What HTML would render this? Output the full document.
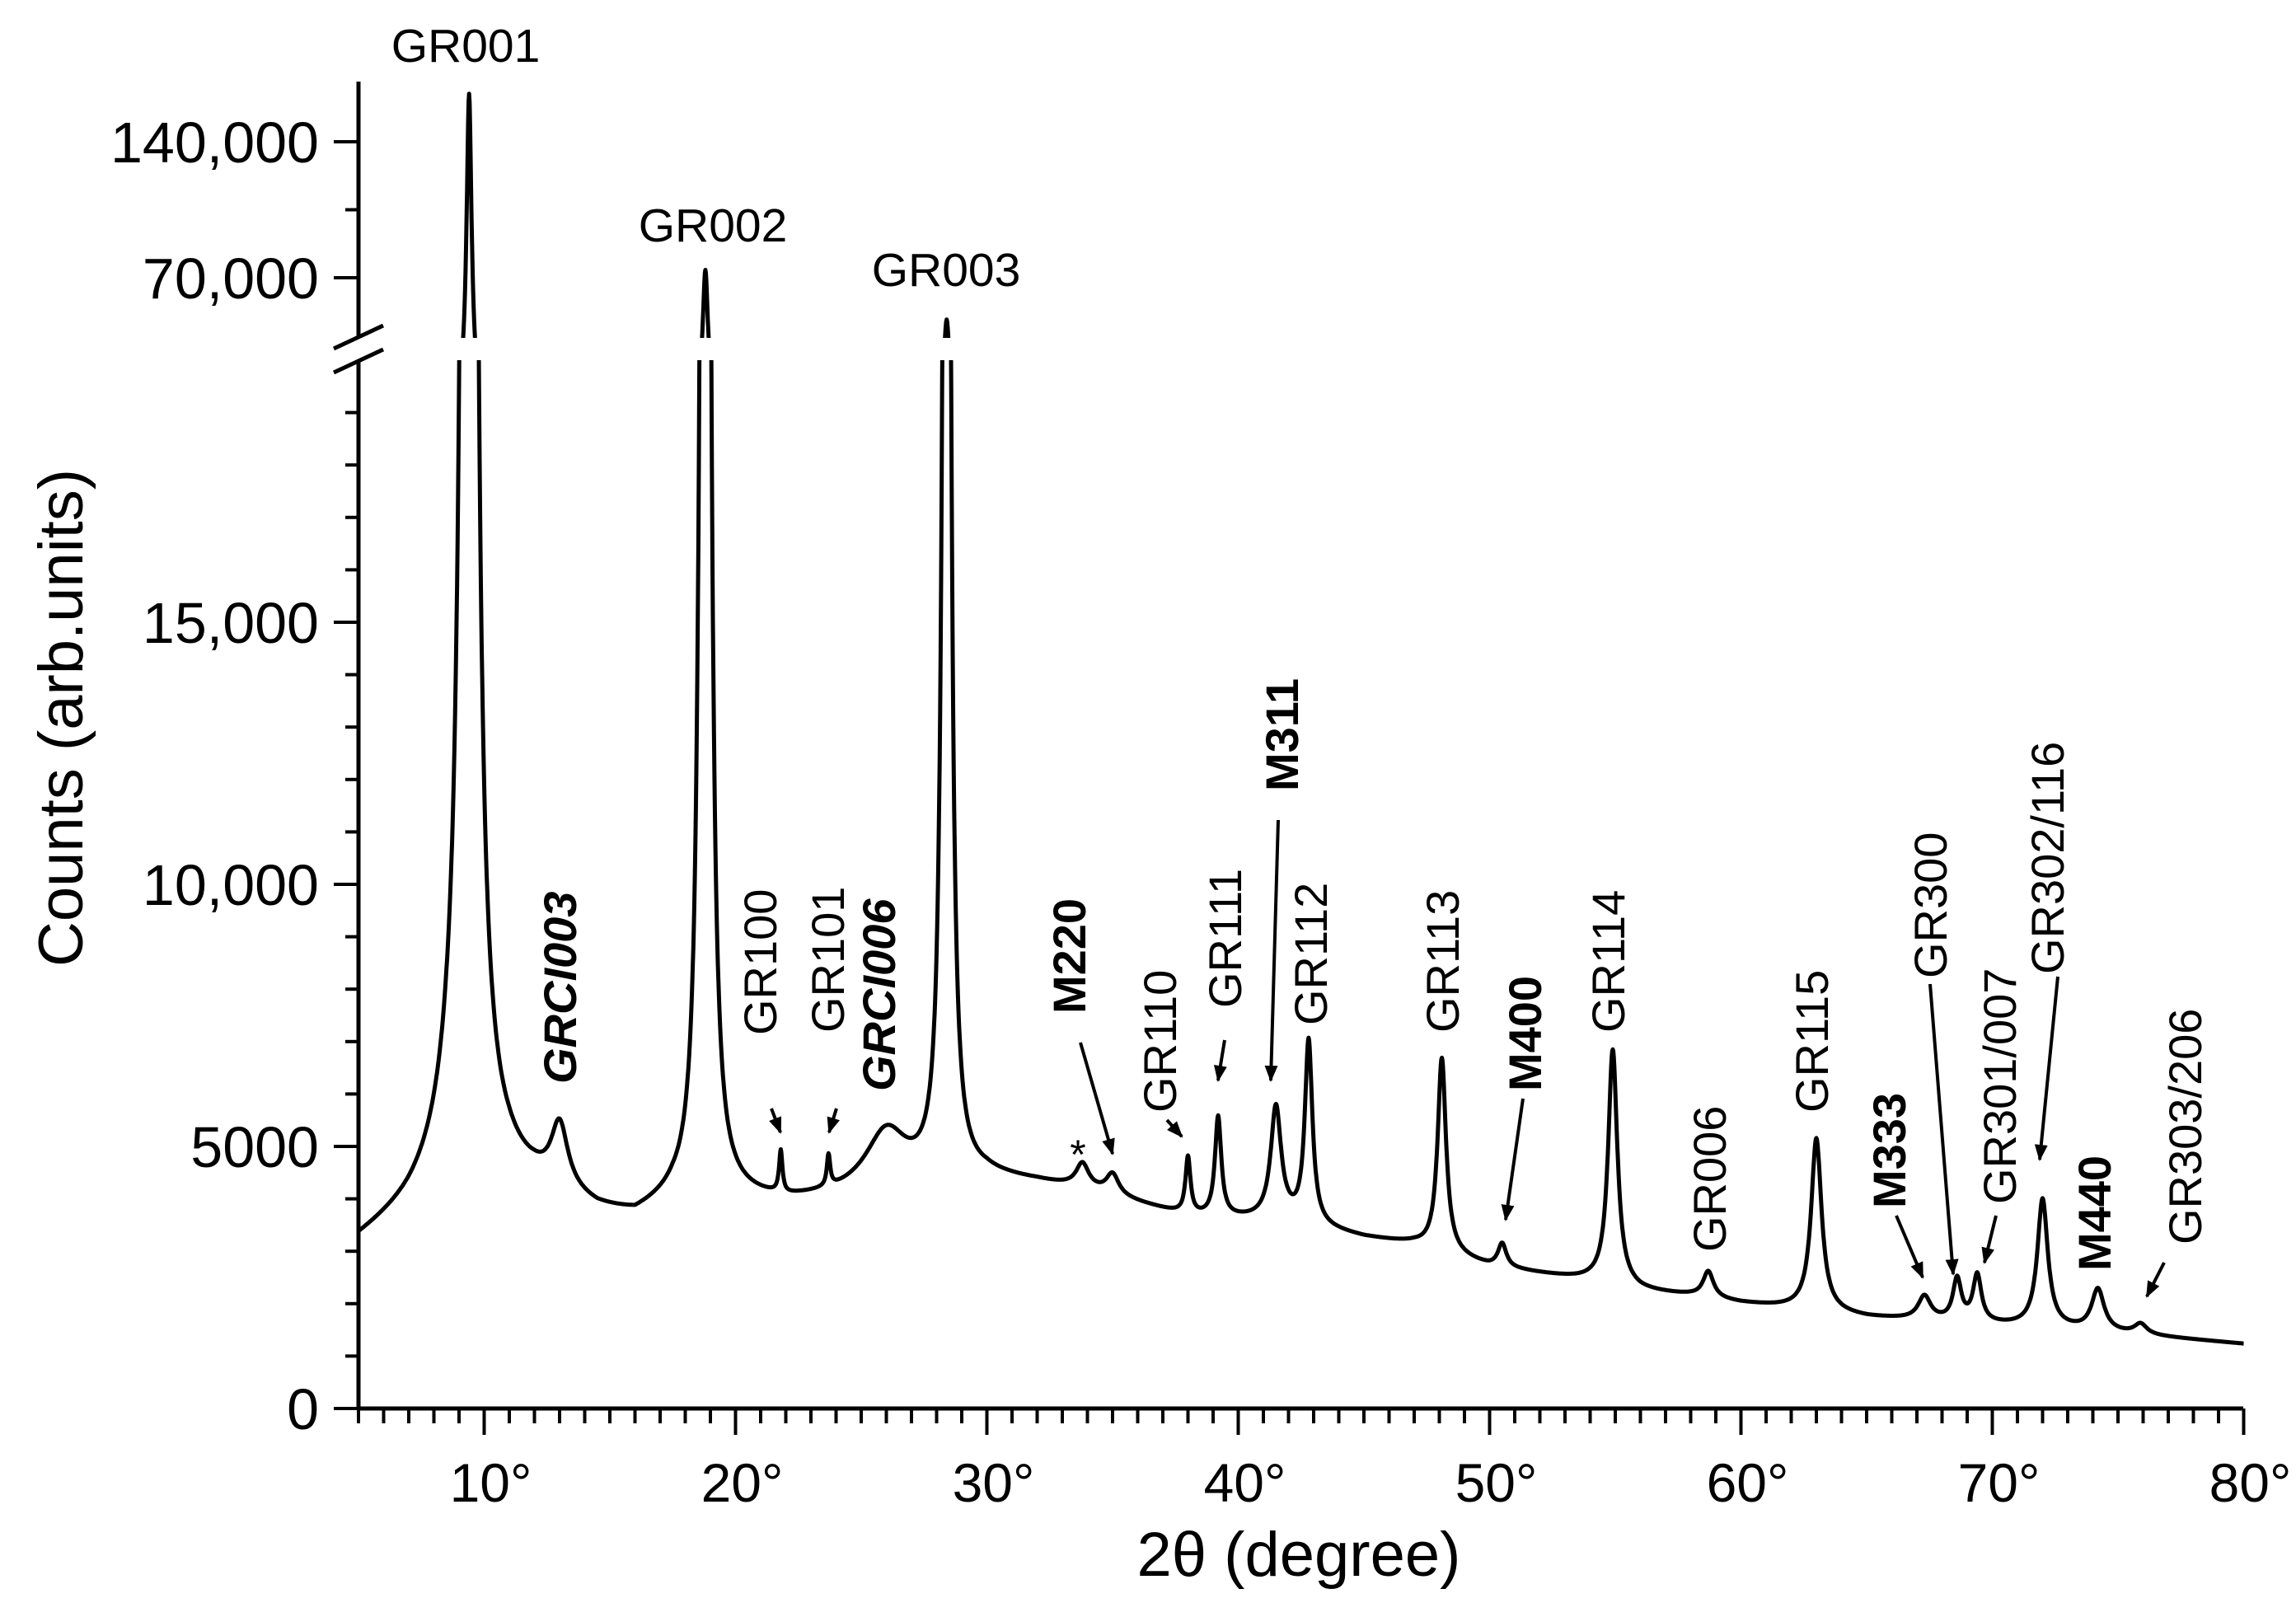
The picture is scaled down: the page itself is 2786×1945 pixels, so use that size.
<!DOCTYPE html>
<html><head><meta charset="utf-8">
<style>
html,body{margin:0;padding:0;background:#fff;}
svg{display:block;}
text{font-family:"Liberation Sans",Arial,sans-serif;fill:#000;}
</style></head>
<body>
<svg id="chart" width="2786" height="1945" viewBox="0 0 2786 1945" xmlns="http://www.w3.org/2000/svg">
<defs>
<clipPath id="clipLow"><rect x="435" y="437" width="2300" height="1280"/></clipPath>
<clipPath id="clipUp"><rect x="435" y="99" width="2300" height="311"/></clipPath>
<marker id="arr" viewBox="0 0 10 10" refX="9" refY="5" markerWidth="5" markerHeight="5" orient="auto"><path d="M0,1 L10,5 L0,9 Z" fill="#000"/></marker>
</defs>
<g id="axes"></g>
<g id="series"></g>
<g id="labels"></g>
</svg>
<script>
// ---- data ----
const bgAngles = [5,7,8.5,11,12,14.5,16,17.5,20,22,24,30,32,34,36,38,40,42,45,47,50,52,54,56,58,60,62,65,68,70,73,76,80];
const bgCounts = [3150,3700,4200,4250,4150,3700,3600,3900,3950,3900,4000,4400,4300,4150,3900,3650,3600,3550,3250,3120,2700,2560,2420,2230,2140,2000,1900,1730,1650,1590,1500,1390,1230];
const peakNames = ["GR001","GR001-shoulder","GRCI003","GR002","GR100","GR101","GRCI006","GR003","star","M220","GR110","GR111","M311","GR112","GR113","M400","GR114","GR006","GR115","M333","GR300","GR301/007","GR302/116","M440","GR303/206"];
const peakCenters = [9.4,9.3,13.0,18.8,21.8,23.7,26.0,28.4,33.8,35.0,38.0,39.2,41.5,42.8,48.1,50.5,54.9,58.7,63.0,67.3,68.6,69.4,72.0,74.2,75.9];
const peakHeights = [158000,2500,1200,70000,800,600,1100,44000,450,400,1100,1900,2150,3500,3700,450,4500,500,3300,450,800,900,2450,800,200];
const peakWidths = [0.12,0.9,0.4,0.13,0.08,0.08,1.0,0.13,0.3,0.3,0.12,0.15,0.25,0.18,0.2,0.2,0.22,0.25,0.25,0.3,0.2,0.2,0.25,0.3,0.3];
const xTicks = [10,20,30,40,50,60,70,80];
const yLowTicks = [0,5000,10000,15000];
const yLowTickLabels = ["0","5000","10,000","15,000"];
const yUpTicks = [70000,140000];
const yUpTickLabels = ["70,000","140,000"];

// ---- scales ----
const X0=435, PX=30.5;
function sx(a){return X0+(a-5)*PX;}
function syLow(v){return 1709-v*318/5000;}
function syUp(v){return 337-(v-70000)*165/70000;}
const NS="http://www.w3.org/2000/svg";
function mk(tag,attrs,parent){const e=document.createElementNS(NS,tag);for(const k in attrs)e.setAttribute(k,attrs[k]);parent.appendChild(e);return e;}

function bg(a){
  for(let i=0;i<bgAngles.length-1;i++){
    if(a>=bgAngles[i]&&a<=bgAngles[i+1]){const t=(a-bgAngles[i])/(bgAngles[i+1]-bgAngles[i]);return bgCounts[i]+t*(bgCounts[i+1]-bgCounts[i]);}
  }
  return bgCounts[bgCounts.length-1];
}
function counts(a){
  let v=bg(a);
  for(let i=0;i<peakCenters.length;i++){const d=(a-peakCenters[i])/peakWidths[i];v+=peakHeights[i]/(1+d*d);}
  return v;
}

const axes=document.getElementById('axes');
const series=document.getElementById('series');
const labels=document.getElementById('labels');

let l;
l=mk('line',{x1:435,y1:1709,x2:2722,y2:1709,stroke:'#000','stroke-width':5},axes);


l=mk('line',{x1:435,y1:1711,x2:435,y2:437,stroke:'#000','stroke-width':5},axes);


l=mk('line',{x1:435,y1:410,x2:435,y2:99,stroke:'#000','stroke-width':5},axes);


l=mk('line',{x1:405,y1:423,x2:465,y2:395,stroke:'#000','stroke-width':5},axes);


l=mk('line',{x1:405,y1:452,x2:465,y2:424,stroke:'#000','stroke-width':5},axes);



for(let a=5;a<=80;a++){
  const major=(a%10===0);
  l=mk('line',{x1:sx(a),y1:1709,x2:sx(a),y2:1709+(major?32:18),stroke:'#000','stroke-width':4},axes);
  
  
}
xTicks.forEach(a=>{
  const t=mk('text',{x:sx(a)+8,y:1822,'font-size':66,'text-anchor':'middle'},axes);
  t.textContent=a+'°';
  
  
});
for(let v=0;v<=19000;v+=1000){
  const major=(v%5000===0);
  l=mk('line',{x1:435,y1:syLow(v),x2:435-(major?30:16),y2:syLow(v),stroke:'#000','stroke-width':4},axes);
  
  
}
yLowTicks.forEach((v,i)=>{
  const t=mk('text',{x:387,y:syLow(v)+25,'font-size':70,'text-anchor':'end'},axes);
  t.textContent=yLowTickLabels[i];
  
  
});
[70000,105000,140000].forEach(v=>{
  const major=(v%70000===0);
  l=mk('line',{x1:435,y1:syUp(v),x2:435-(major?30:16),y2:syUp(v),stroke:'#000','stroke-width':4},axes);
  
  
});
yUpTicks.forEach((v,i)=>{
  const t=mk('text',{x:387,y:syUp(v)+25,'font-size':70,'text-anchor':'end'},axes);
  t.textContent=yUpTickLabels[i];
  
  
});
let t=mk('text',{x:1576,y:1912,'font-size':76,'text-anchor':'middle'},axes);
t.textContent='2θ (degree)';


t=mk('text',{x:0,y:0,'font-size':76,'text-anchor':'middle',transform:'translate(100,871) rotate(-90)'},axes);
t.textContent='Counts (arb.units)';



let dl='',du='';
for(let a=5;a<=80.0001;a+=0.02){
  const v=counts(a);
  const x=sx(a).toFixed(1);
  dl+=(dl?'L':'M')+x+','+syLow(Math.min(v,21000)).toFixed(1);
  du+=(du?'L':'M')+x+','+syUp(Math.max(Math.min(v,180000),30000)).toFixed(1);
}
let p=mk('path',{d:dl,fill:'none',stroke:'#000','stroke-width':5,'stroke-linejoin':'round','clip-path':'url(#clipLow)'},series);


p=mk('path',{d:du,fill:'none',stroke:'#000','stroke-width':5,'stroke-linejoin':'round','clip-path':'url(#clipUp)'},series);



[["GR001",565,75],["GR002",865,293],["GR003",1148,347]].forEach(d=>{
  const e=mk('text',{x:d[1],y:d[2],'font-size':57,'text-anchor':'middle'},labels);
  e.textContent=d[0];
  
  
});
const st=mk('text',{x:1308,y:1418,'font-size':50,'text-anchor':'middle'},labels);
st.textContent='*';


const rot=[["GRCI003",679,1315,1,1],["GR100",922,1256,0,0],["GR101",1004,1253,0,0],["GRCI006",1066,1324,1,1],["M220",1297,1230,1,0],["GR110",1407,1350,0,0],["GR111",1486,1223,0,0],["M311",1555,960,1,0],["GR112",1590,1244,0,0],["GR113",1750,1253,0,0],["M400",1850,1324,1,0],["GR114",1951,1253,0,0],["GR006",2074,1519,0,0],["GR115",2198,1350,0,0],["M333",2292,1466,1,0],["GR300",2342,1187,0,0],["GR301/007",2426,1461,0,0],["GR302/116",2484,1182,0,0],["M440",2541,1542,1,0],["GR303/206",2651,1510,0,0]];
rot.forEach(d=>{
  const e=mk('text',{x:0,y:0,'font-size':56,'text-anchor':'start',transform:'translate('+(d[1]+20)+','+d[2]+') rotate(-90)'},labels);
  if(d[3])e.setAttribute('font-weight','bold');
  if(d[4])e.setAttribute('font-style','italic');
  e.textContent=d[0];
  
  
});
const arrows=[[936,1345,947,1374],[1015,1345,1006,1374],[1311,1265,1350,1400],[1416,1359,1434,1379],[1486,1262,1478,1311],[1551,995,1542,1311],[1848,1333,1827,1480],[2301,1475,2333,1550],[2342,1194,2370,1546],[2422,1475,2408,1532],[2497,1185,2475,1407],[2626,1532,2605,1573]];
arrows.forEach(a=>{
  const e=mk('line',{x1:a[0],y1:a[1],x2:a[2],y2:a[3],stroke:'#000','stroke-width':4,'marker-end':'url(#arr)'},labels);
  
  
});
</script>
</body></html>
